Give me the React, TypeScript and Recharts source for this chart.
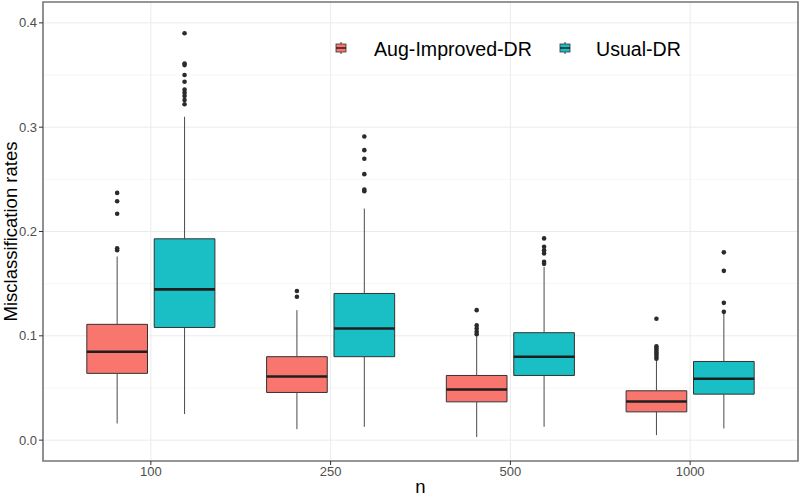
import React from 'react'
import {
  ComposedChart,
  XAxis,
  YAxis,
  CartesianGrid,
  Scatter,
  ReferenceArea,
  ReferenceLine,
  Legend,
} from 'recharts'

// sample sizes (x categories)
const nLabels = ['100', '250', '500', '1000']
const yTicks = [0, 0.1, 0.2, 0.3, 0.4]
const minorTicks = [0.05, 0.15, 0.25, 0.35]

// Aug-Improved-DR box stats
const augLow = [0.016, 0.0105, 0.003, 0.0048]
const augQ1 = [0.064, 0.0457, 0.0367, 0.0271]
const augMedian = [0.0847, 0.061, 0.0486, 0.0371]
const augQ3 = [0.111, 0.08, 0.062, 0.0473]
const augHigh = [0.176, 0.1246, 0.0997, 0.0767]
const augOutliers = [
  [0.237, 0.229, 0.217, 0.184, 0.182],
  [0.143, 0.1374],
  [0.1246, 0.11, 0.107, 0.104, 0.1016],
  [0.1163, 0.09, 0.088, 0.086, 0.084, 0.082, 0.08, 0.078],
]

// Usual-DR box stats
const usualLow = [0.025, 0.0128, 0.0128, 0.0112]
const usualQ1 = [0.108, 0.08, 0.062, 0.0441]
const usualMedian = [0.1445, 0.107, 0.08, 0.0588]
const usualQ3 = [0.193, 0.1406, 0.103, 0.0754]
const usualHigh = [0.31, 0.222, 0.166, 0.1215]
const usualOutliers = [
  [0.39, 0.361, 0.3595, 0.35, 0.3435, 0.336, 0.333, 0.33, 0.326, 0.322],
  [0.291, 0.278, 0.2697, 0.255, 0.2403, 0.2387],
  [0.1934, 0.1854, 0.182, 0.179, 0.171, 0.169],
  [0.18, 0.1623, 0.1316, 0.123],
]

const DODGE = 0.1875
const HALF = 0.16875
const FONT = '"Liberation Sans", Arial, sans-serif'

const groups = [
  { name: 'Aug-Improved-DR', color: '#F8766D', offset: -DODGE, low: augLow, q1: augQ1, med: augMedian, q3: augQ3, high: augHigh, out: augOutliers },
  { name: 'Usual-DR', color: '#19BFC4', offset: DODGE, low: usualLow, q1: usualQ1, med: usualMedian, q3: usualQ3, high: usualHigh, out: usualOutliers },
]

const Dot = (p: any) => <circle cx={p.cx} cy={p.cy} r={2.3} fill="#2b2b2b" />

const LegendKey = ({ x, color }: { x: number; color: string }) => (
  <g>
    <line x1={x + 5} x2={x + 5} y1={5} y2={17} stroke="#333" strokeWidth={1} />
    <rect x={x} y={7} width={10} height={8} fill={color} stroke="#333" strokeWidth={0.8} />
    <line x1={x} x2={x + 10} y1={11} y2={11} stroke="#222" strokeWidth={1.5} />
  </g>
)

const renderLegend = () => (
  <svg width={370} height={24} style={{ fontFamily: FONT }}>
    <LegendKey x={6} color={groups[0].color} />
    <text x={44} y={19} fontSize={19.6} fill="#000">{groups[0].name}</text>
    <LegendKey x={230} color={groups[1].color} />
    <text x={266} y={19} fontSize={19.6} fill="#000">{groups[1].name}</text>
  </svg>
)

export default function App() {
  return (
    <div style={{ position: 'absolute', left: 0, top: 0, fontFamily: FONT }}>
      <ComposedChart width={800} height={498} margin={{ top: 2, right: 2, bottom: 0, left: 0 }}>
        {/* minor grid first, then major */}
        <CartesianGrid stroke="#f4f4f4" strokeWidth={0.8} vertical={false} horizontalValues={minorTicks} />
        <CartesianGrid stroke="#ebebeb" strokeWidth={1} />
        <XAxis
          type="number"
          dataKey="x"
          domain={[0.4, 4.6]}
          ticks={[1, 2, 3, 4]}
          tickFormatter={(v) => nLabels[v - 1]}
          height={37}
          axisLine={false}
          tickLine={{ stroke: '#333' }}
          tickSize={4}
          tickMargin={2}
          tick={{ fill: '#4d4d4d', fontSize: 13 }}
          label={({ viewBox }: any) => (
            <text x={viewBox.x + viewBox.width / 2} y={492.5} textAnchor="middle" fontSize={18.5} fill="#000">
              n
            </text>
          )}
        />
        <YAxis
          type="number"
          dataKey="y"
          domain={[-0.02, 0.42]}
          ticks={yTicks}
          tickFormatter={(v) => v.toFixed(1)}
          width={43}
          axisLine={false}
          tickLine={{ stroke: '#333' }}
          tickSize={4}
          tickMargin={2}
          tick={{ fill: '#4d4d4d', fontSize: 13 }}
          label={({ viewBox }: any) => {
            const cy = viewBox.y + viewBox.height / 2
            return (
              <text x={16.5} y={cy} textAnchor="middle" fontSize={18.5} fill="#000" transform={`rotate(-90, 16.5, ${cy})`}>
                Misclassification rates
              </text>
            )
          }}
        />
        {/* panel border */}
        <ReferenceArea x1={0.4} x2={4.6} y1={-0.02} y2={0.42} fill="none" stroke="#777" strokeWidth={1.6} />
        {groups.map((g) =>
          nLabels.map((n, i) => {
            const cx = i + 1 + g.offset
            return [
              <ReferenceLine key={`${g.name}-${n}-wh`} segment={[{ x: cx, y: g.q3[i] }, { x: cx, y: g.high[i] }]} stroke="#4a4a4a" strokeWidth={1} />,
              <ReferenceLine key={`${g.name}-${n}-wl`} segment={[{ x: cx, y: g.low[i] }, { x: cx, y: g.q1[i] }]} stroke="#4a4a4a" strokeWidth={1} />,
              <ReferenceArea key={`${g.name}-${n}-box`} x1={cx - HALF} x2={cx + HALF} y1={g.q1[i]} y2={g.q3[i]} fill={g.color} fillOpacity={1} stroke="#333" strokeWidth={1} />,
              <ReferenceLine key={`${g.name}-${n}-med`} segment={[{ x: cx - HALF, y: g.med[i] }, { x: cx + HALF, y: g.med[i] }]} stroke="#1f1f1f" strokeWidth={2.6} />,
            ]
          })
        )}
        {groups.map((g) => (
          <Scatter
            key={`${g.name}-out`}
            name={g.name}
            data={g.out.flatMap((vals, i) => vals.map((v) => ({ x: i + 1 + g.offset, y: v })))}
            shape={Dot}
            isAnimationActive={false}
          />
        ))}
        <Legend
          verticalAlign="middle"
          align="center"
          content={renderLegend}
          wrapperStyle={{ position: 'absolute', left: 330, top: 37, width: 370, height: 24 }}
        />
      </ComposedChart>
    </div>
  )
}
